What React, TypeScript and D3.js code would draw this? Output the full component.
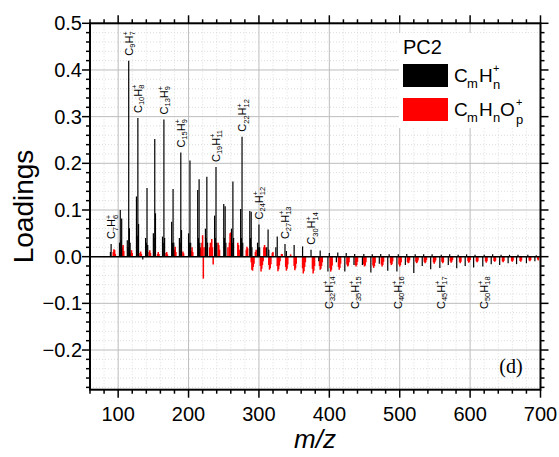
import React from "react";
import * as d3 from "d3";

// CmHn+ sticks (black), [m/z, loading]
const cmhnCluster: [number, number][] = [
  [89, 0.01], [90, 0.027],
  [102, 0.03], [103, 0.1], [104, 0.035], [105, 0.082],
  [113, 0.035], [114, 0.02], [115, 0.42], [116, 0.061], [117, 0.03],
  [126, 0.129], [127, 0.045], [128, 0.297], [129, 0.07],
  [139, 0.04], [140, 0.03], [141, 0.147], [142, 0.025],
  [150, 0.05], [151, 0.04], [152, 0.252], [153, 0.093],
  [163, 0.043], [164, 0.03], [165, 0.294], [166, 0.04],
  [176, 0.075], [177, 0.03], [178, 0.145], [179, 0.03],
  [187, 0.04], [188, 0.03], [189, 0.223], [190, 0.057],
  [200, 0.05], [201, 0.03], [202, 0.206], [203, 0.03],
  [213, 0.143], [214, 0.04], [215, 0.166], [216, 0.03],
  [224, 0.06], [225, 0.04], [226, 0.171], [227, 0.03],
  [237, 0.088], [238, 0.04], [239, 0.192], [240, 0.03],
  [250, 0.113], [251, 0.04], [252, 0.108], [253, 0.03],
  [261, 0.06], [262, 0.03], [263, 0.161], [264, 0.04],
  [274, 0.102], [275, 0.04], [276, 0.257], [277, 0.03],
  [287, 0.098], [288, 0.04], [289, 0.096], [290, 0.02],
  [298, 0.03], [299, 0.02], [300, 0.069], [301, 0.02],
  [311, 0.02], [313, 0.058], [314, 0.015],
  [324, 0.02], [326, 0.043],
  [337, 0.027], [339, 0.012],
  [350, 0.025], [362, 0.022], [374, 0.015], [387, 0.013],
];

const cmhnTail: [number, number][] = [
  [400, 0.008], [412, 0.009], [424, 0.008], [436, 0.006], [449, 0.006],
  [461, 0.005], [473, 0.006], [485, 0.005], [498, 0.005], [510, 0.006],
  [522, 0.005], [534, 0.005], [546, 0.005], [559, 0.004], [571, 0.005],
  [583, 0.004], [595, 0.005], [607, 0.004], [620, 0.004], [632, 0.005],
  [644, 0.004], [656, 0.004], [668, 0.004], [682, 0.004], [694, 0.003],
];

const cmhnNeg: [number, number][] = [
  [135, -0.006], [385, -0.01], [398, -0.032], [410, -0.012], [422, -0.032],
  [435, -0.018], [447, -0.018], [459, -0.034], [471, -0.015], [483, -0.03],
  [496, -0.032], [508, -0.018], [520, -0.035], [532, -0.02], [544, -0.027],
  [557, -0.024], [569, -0.018], [581, -0.025], [593, -0.02], [605, -0.023],
  [618, -0.021], [630, -0.016], [642, -0.018], [654, -0.014], [666, -0.016],
  [680, -0.014], [692, -0.01],
];

// CmHnOp+ sticks (red)
const cmhnopPos: [number, number][] = [
  [93, 0.01], [94, 0.016], [95, 0.014], [96, 0.006],
  [106, 0.02], [107, 0.025], [108, 0.012],
  [118, 0.008], [119, 0.014], [120, 0.008],
  [131, 0.008], [132, 0.011], [133, 0.006],
  [144, 0.01], [145, 0.014], [146, 0.008],
  [156, 0.006], [157, 0.01], [158, 0.006],
  [168, 0.008], [169, 0.01], [170, 0.005],
  [180, 0.015], [181, 0.021], [182, 0.01],
  [192, 0.011], [193, 0.007],
  [204, 0.012], [205, 0.02], [206, 0.01],
  [217, 0.02], [218, 0.015], [219, 0.03], [220, 0.046], [222, 0.02],
  [230, 0.02], [231, 0.03], [233, 0.038], [234, 0.02],
  [242, 0.03], [243, 0.025], [244, 0.015],
  [256, 0.02], [258, 0.03], [259, 0.05], [260, 0.052],
  [270, 0.03], [271, 0.025], [272, 0.015],
  [282, 0.015], [283, 0.021], [284, 0.018],
  [295, 0.01], [296, 0.015],
  [307, 0.02], [308, 0.025], [309, 0.02],
  [319, 0.008], [320, 0.01],
  [332, 0.006], [333, 0.006], [345, 0.005],
];

const cmhnopNeg: [number, number][] = [
  [221, -0.047], [235, -0.017],
  [289, -0.012], [290, -0.028], [291, -0.03], [292, -0.022], [293, -0.015],
  [302, -0.02], [303, -0.032], [304, -0.026], [305, -0.018], [306, -0.01],
  [314, -0.018], [315, -0.028], [316, -0.025], [317, -0.016],
  [326, -0.02], [327, -0.031], [328, -0.027], [329, -0.019], [330, -0.01],
  [338, -0.022], [339, -0.03], [340, -0.026], [341, -0.017],
  [350, -0.02], [351, -0.029], [352, -0.025], [353, -0.015],
  [362, -0.025], [363, -0.036], [364, -0.031], [365, -0.022], [366, -0.012],
  [376, -0.026], [377, -0.036], [378, -0.03], [379, -0.02],
  [386, -0.02], [387, -0.028], [388, -0.026], [389, -0.02], [390, -0.012],
  [401, -0.024], [402, -0.032], [403, -0.028], [404, -0.019],
  [413, -0.022], [414, -0.028], [415, -0.024], [416, -0.015],
  [425, -0.017], [426, -0.021], [427, -0.019], [428, -0.012],
  [437, -0.018], [438, -0.021], [439, -0.018], [440, -0.011],
  [449, -0.017], [450, -0.021], [451, -0.019], [452, -0.012],
  [462, -0.019], [463, -0.024], [464, -0.02], [465, -0.013],
  [474, -0.017], [475, -0.021], [476, -0.018], [477, -0.011],
  [487, -0.014], [488, -0.018], [489, -0.016], [490, -0.01],
  [499, -0.017], [500, -0.021], [501, -0.018], [502, -0.012],
  [511, -0.011], [512, -0.014], [513, -0.013], [514, -0.008],
  [523, -0.011], [524, -0.014], [525, -0.012], [526, -0.008],
  [535, -0.011], [536, -0.014], [537, -0.012], [538, -0.007],
  [548, -0.012], [549, -0.015], [550, -0.012], [551, -0.008],
  [560, -0.011], [561, -0.014], [562, -0.012],
  [572, -0.01], [573, -0.013], [574, -0.011], [575, -0.007],
  [585, -0.011], [586, -0.014], [587, -0.011],
  [597, -0.01], [598, -0.013], [599, -0.011], [600, -0.007],
  [609, -0.01], [610, -0.012], [611, -0.01],
  [622, -0.01], [623, -0.013], [624, -0.01],
  [634, -0.009], [635, -0.011], [636, -0.009],
  [646, -0.01], [647, -0.012], [648, -0.009],
  [659, -0.009], [660, -0.011], [661, -0.008],
  [671, -0.009], [672, -0.011], [673, -0.008],
  [684, -0.008], [685, -0.01], [686, -0.007],
  [696, -0.006], [697, -0.008],
];

// peak annotations
const upLabelMz = [90, 115, 128, 165, 189, 239, 276, 300, 337, 374];
const upLabelC = ["7", "9", "10", "13", "15", "19", "22", "24", "27", "30"];
const upLabelH = ["6", "7", "8", "9", "9", "11", "12", "12", "13", "14"];
const downLabelMz = [398, 435, 496, 557, 618];
const downLabelC = ["32", "35", "40", "45", "50"];
const downLabelH = ["14", "15", "16", "17", "18"];

const xTicks = [100, 200, 300, 400, 500, 600, 700];
const yTicks = [-0.2, -0.1, 0.0, 0.1, 0.2, 0.3, 0.4, 0.5];

const FONT = "'Liberation Sans', Arial, sans-serif";

const x = d3.scaleLinear().domain([60, 700]).range([90, 540.5]);
const y = d3.scaleLinear().domain([-0.285, 0.5]).range([389.7, 23.3]);

const Formula = ({ px, py, c, h }) => {
  const big = 11, small = 7.5, sup = 7;
  const wC = 0.722 * big;
  const x1 = wC;
  const x2 = x1 + c.length * 0.556 * small;
  const x3 = x2 + wC;
  return (
    <text transform={`translate(${px},${py}) rotate(-90)`} fontFamily={FONT} fontSize={big} fill="#000">
      <tspan x={0} y={0}>C</tspan>
      <tspan x={x1} y={2.5} fontSize={small}>{c}</tspan>
      <tspan x={x2} y={0}>H</tspan>
      <tspan x={x3} y={-4.5} fontSize={sup}>+</tspan>
      <tspan x={x3} y={2.5} fontSize={small}>{h}</tspan>
    </text>
  );
};

const Sticks = ({ data, color, width }) => (
  <g stroke={color} strokeWidth={width}>
    {data.map(([m, v], i) => (
      <line key={i} x1={x(m)} x2={x(m)} y1={y(0)} y2={y(v)} />
    ))}
  </g>
);

export default function App() {
  const [x0, x1] = x.range();
  const [yb, yt] = y.range();
  const xMinor = d3.range(60, 701, 20).filter((d) => d % 100 !== 0);
  const yMinor = d3.range(-28, 51, 2).filter((d) => d % 10 !== 0).map((d) => d / 100);
  const peakOf = (m) => {
    const p = cmhnCluster.find((d) => d[0] === m);
    return p ? p[1] : 0;
  };

  return (
    <svg width={559} height={457} style={{ position: "absolute", left: 0, top: 0, background: "#fff" }}>
      <rect width={559} height={457} fill="#fff" />
      {/* minor grid */}
      <g stroke="#d6d6d6" strokeWidth={0.8} strokeDasharray="1,2">
        {xMinor.map((d) => (
          <line key={"gx" + d} x1={x(d)} x2={x(d)} y1={yt} y2={yb} />
        ))}
        {yMinor.map((d) => (
          <line key={"gy" + d} x1={x0} x2={x1} y1={y(d)} y2={y(d)} />
        ))}
      </g>
      {/* major grid */}
      <g stroke="#bdbdbd" strokeWidth={1}>
        {xTicks.map((d) => (
          <line key={"Gx" + d} x1={x(d)} x2={x(d)} y1={yt} y2={yb} />
        ))}
        {yTicks.map((d) => (
          <line key={"Gy" + d} x1={x0} x2={x1} y1={y(d)} y2={y(d)} />
        ))}
      </g>

      {/* legend */}
      <rect x={399} y={33} width={141} height={95} fill="#fff" />
      <text x={403} y={54} fontFamily={FONT} fontSize={20}>PC2</text>
      <rect x={403} y={64} width={45} height={23} fill="#000" />
      <rect x={403} y={98} width={45} height={23} fill="#ff0000" />
      <g fontFamily={FONT}>
        <text x={454} y={82} fontSize={19}>C</text>
        <text x={467} y={88} fontSize={13}>m</text>
        <text x={479} y={82} fontSize={19}>H</text>
        <text x={493} y={72} fontSize={11}>+</text>
        <text x={493} y={89} fontSize={13}>n</text>
        <text x={454} y={116} fontSize={19}>C</text>
        <text x={467} y={122} fontSize={13}>m</text>
        <text x={479} y={116} fontSize={19}>H</text>
        <text x={493} y={122} fontSize={13}>n</text>
        <text x={500} y={116} fontSize={19}>O</text>
        <text x={516} y={106} fontSize={11}>+</text>
        <text x={516} y={124} fontSize={13}>p</text>
      </g>

      <Sticks data={cmhnopPos} color="#ff0000" width={1.5} />
      <Sticks data={cmhnopNeg} color="#ff0000" width={1.5} />
      <Sticks data={cmhnCluster} color="#000" width={1.2} />
      <Sticks data={cmhnTail} color="#000" width={1.2} />
      <Sticks data={cmhnNeg} color="#000" width={1.2} />

      {/* zero line */}
      <line x1={x0} x2={x1} y1={y(0)} y2={y(0)} stroke="#000" strokeWidth={1.5} />

      {/* peak labels */}
      {upLabelMz.map((m, i) => (
        <Formula key={"u" + m} px={x(m) + 4} py={y(peakOf(m)) - 5} c={upLabelC[i]} h={upLabelH[i]} />
      ))}
      {downLabelMz.map((m, i) => (
        <Formula key={"d" + m} px={x(m) + 5} py={309} c={downLabelC[i]} h={downLabelH[i]} />
      ))}

      {/* frame */}
      <rect x={x0} y={yt} width={x1 - x0} height={yb - yt} fill="none" stroke="#000" strokeWidth={2} />

      {/* ticks */}
      <g stroke="#000" strokeWidth={1.5}>
        {xTicks.map((d) => (
          <g key={"tx" + d}>
            <line x1={x(d)} x2={x(d)} y1={yb} y2={yb + 8} />
            <line x1={x(d)} x2={x(d)} y1={yt} y2={yt - 8} />
          </g>
        ))}
        {xMinor.map((d) => (
          <g key={"mx" + d}>
            <line x1={x(d)} x2={x(d)} y1={yb} y2={yb + 4} />
            <line x1={x(d)} x2={x(d)} y1={yt} y2={yt - 4} />
          </g>
        ))}
        {yTicks.map((d) => (
          <g key={"ty" + d}>
            <line x1={x0} x2={x0 - 8} y1={y(d)} y2={y(d)} />
            <line x1={x1} x2={x1 + 8} y1={y(d)} y2={y(d)} />
          </g>
        ))}
        {yMinor.map((d) => (
          <g key={"my" + d}>
            <line x1={x0} x2={x0 - 4} y1={y(d)} y2={y(d)} />
            <line x1={x1} x2={x1 + 4} y1={y(d)} y2={y(d)} />
          </g>
        ))}
      </g>

      {/* tick labels */}
      <g fontFamily={FONT} fontSize={20} fill="#000">
        {xTicks.map((d) => (
          <text key={"lx" + d} x={x(d)} y={421} textAnchor="middle">{d}</text>
        ))}
        {yTicks.map((d) => (
          <text key={"ly" + d} x={82} y={y(d)} dy="0.35em" textAnchor="end">
            {d3.format(".1f")(d)}
          </text>
        ))}
      </g>

      <text x={511} y={373} textAnchor="middle" fontFamily="'Liberation Serif', 'Times New Roman', serif" fontSize={20}>(d)</text>

      {/* axis titles */}
      <text x={315} y={448} textAnchor="middle" fontFamily={FONT} fontSize={26} fontStyle="italic">m/z</text>
      <text transform={`translate(33,${(yt + yb) / 2}) rotate(-90)`} textAnchor="middle" fontFamily={FONT} fontSize={28}>Loadings</text>
    </svg>
  );
}
